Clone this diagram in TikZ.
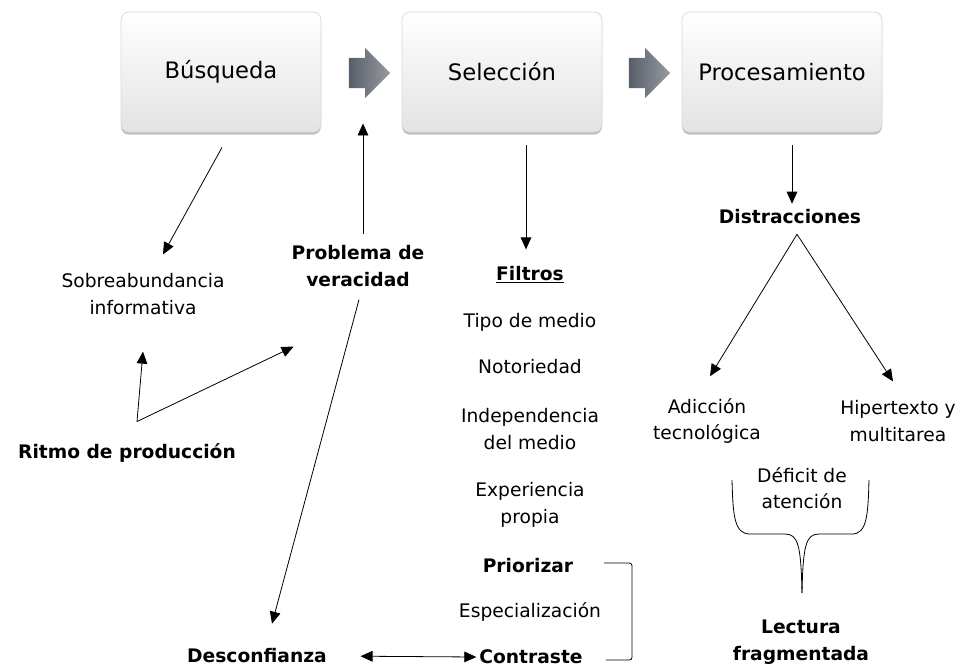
\documentclass[tikz,border=0pt]{standalone}
\usepackage{fontspec}
\setmainfont{DejaVu Sans}
\usetikzlibrary{arrows.meta,shapes.arrows,shadows}
\definecolor{arrdark}{RGB}{88,94,106}
\definecolor{arrlight}{RGB}{150,154,160}

\begin{document}
\begin{tikzpicture}[x=0.75pt,y=-0.75pt,>={Triangle[length=9pt,width=8pt]},line width=0.6pt]
	\tikzstyle{stage} = [rounded corners=6pt,draw=gray!30,top color=white,bottom color=gray!22,minimum width=150pt,minimum height=90pt,font=\fontsize{17}{20}\selectfont,drop shadow={shadow xshift=0pt,shadow yshift=-2pt,opacity=0.5}]
	\tikzstyle{flow} = [single arrow,single arrow head extend=7.5pt,single arrow head indent=0pt,inner xsep=0pt,inner ysep=11pt,minimum height=31pt,minimum width=37pt,left color=arrdark,right color=arrlight]
	\tikzstyle{txt} = [align=center,inner sep=2pt,font=\fontsize{14}{20}\selectfont]
	\tikzstyle{btxt} = [txt,font=\fontsize{14}{20}\selectfont\bfseries]
	\useasboundingbox (0,0) rectangle (961,669);
	% stages
	\foreach \name/\x/\label in {busq/221/Búsqueda,sel/502/Selección,proc/782/Procesamiento}
		\node[stage] (\name) at (\x,72) {\label};
	\node[flow] (arr1) at (362,73) {};
	\node[flow] (arr2) at (642,73) {};
	% busqueda
	\node[txt] (sobre) at (143,294) {Sobreabundancia\\informativa};
	\node[btxt] (probl) at (358,266) {Problema de\\veracidad};
	\node[btxt] (ritmo) at (127,453) {Ritmo de producción};
	\node[btxt] (desc) at (257,656) {Desconfianza};
	% seleccion
	\node[btxt] (filtros) at (530,275) {\underline{Filtros}};
	\foreach \name/\y/\label in {tipo/322/Tipo de medio,notor/367/Notoriedad,indep/429/{Independencia\\del medio},exper/505/{Experiencia\\propia},espec/612/Especialización}
		\node[txt] (\name) at (530,\y) {\label};
	\node[btxt] (prior) at (528,566) {Priorizar};
	\node[btxt] (contr) at (531,657) {Contraste};
	% procesamiento
	\node[btxt] (distr) at (790,217) {Distracciones};
	\node[txt] (adic) at (707,421) {Adicción\\tecnológica};
	\node[txt] (hiper) at (898,421) {Hipertexto y\\multitarea};
	\node[txt] (defic) at (802,488) {Déficit de\\atención};
	\node[btxt] (lect) at (801,642) {Lectura\\fragmentada};
	% connections
	\draw[->] ([shift={(1,15)}]busq.south) -- ([shift={(20,-16)}]sobre.north);
	\draw[->] ([shift={(5,-8)}]probl.north) -- ([shift={(1,35)}]arr1.south);
	\draw[->] ([shift={(1,10)}]probl.south) -- ([shift={(15,-22)}]desc.north);
	\draw[->] ([shift={(10,-19)}]ritmo.north) -- ([shift={(0,34)}]sobre.south);
	\draw[->] ([shift={(10,-19)}]ritmo.north) -- ([shift={(5,57)}]probl.south west);
	\draw[->] ([shift={(24,13)}]sel.south) -- ([shift={(-4,-14)}]filtros.north);
	\draw[<->, shorten <=23pt] (desc.east) -- (contr.west);
	\draw[->] ([shift={(10,13)}]proc.south) -- ([shift={(2,-3)}]distr.north);
	\draw[->] ([shift={(7,7)}]distr.south) -- ([shift={(3,-19)}]adic.north);
	\draw[->] ([shift={(7,7)}]distr.south) -- ([shift={(-5,-16)}]hiper.north);
	% brackets
	\draw[rounded corners=2pt] (604,563) -- (632,563) -- (632,660) -- (606,660);
	\draw (732,480) .. controls (733,515) and (734,534) .. (750,534) -- (785,534) .. controls (798,534) and (801,545) .. (802,593);
	\draw (869,480) .. controls (868,515) and (867,534) .. (852,534) -- (819,534) .. controls (806,534) and (803,545) .. (802,593);
\end{tikzpicture}
\end{document}
